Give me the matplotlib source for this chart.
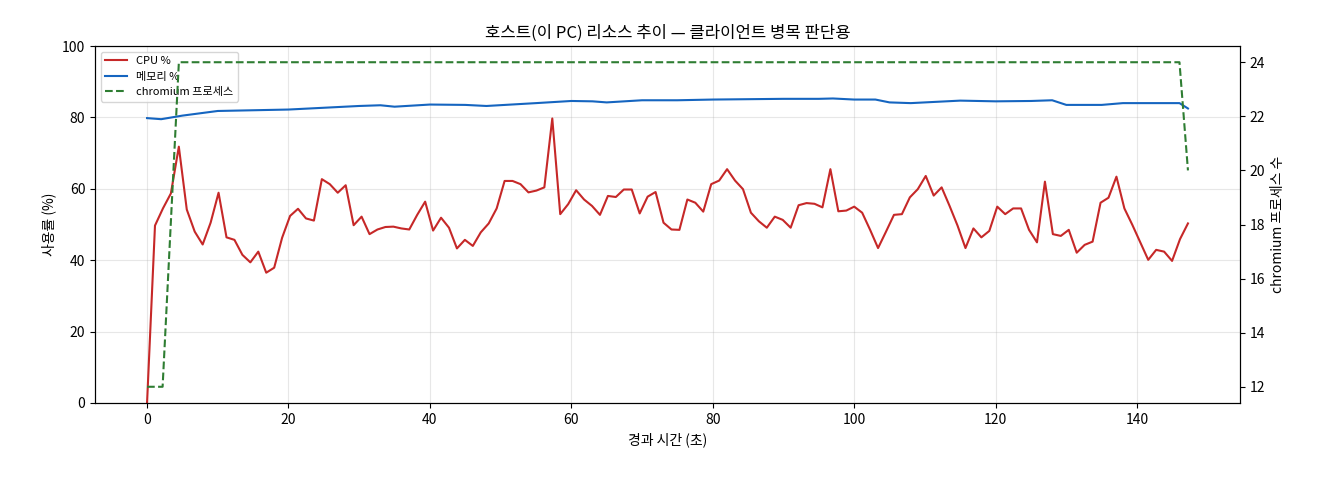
import numpy as np
import matplotlib
matplotlib.use("Agg")
import matplotlib.pyplot as plt

plt.rcParams['font.family'] = ['Noto Sans CJK KR', 'DejaVu Sans']
plt.rcParams['axes.unicode_minus'] = False

# ===== 데이터 =====
cpu = [0, 49.7, 54.5, 58.7, 71.8, 54.2, 48, 44.4, 50.5, 58.9, 46.4, 45.7, 41.5, 39.4, 42.4,
       36.5, 37.9, 46.3, 52.4, 54.4, 51.7, 51.1, 62.7, 61.3, 58.9, 61, 49.8, 52.2, 47.3, 48.6,
       49.3, 49.4, 48.9, 48.6, 52.7, 56.4, 48.3, 51.9, 49.1, 43.3, 45.7, 44, 47.8, 50.3, 54.5,
       62.2,
       62.2, 61.3, 59, 59.5, 60.4, 79.7, 52.9, 55.7, 59.6, 57, 55.2, 52.7, 58, 57.7, 59.8, 59.8,
       53.1, 57.8, 59.1, 50.5, 48.6, 48.5, 57, 56.1, 53.6, 61.3, 62.3, 65.5, 62.3, 59.9, 53.3,
       50.9, 49.1, 52.2, 51.3, 49.1, 55.4, 56, 55.8, 54.8, 65.5, 53.7, 53.9, 55.0,
       53.3, 48.5, 43.4, 48, 52.7, 52.9, 57.6, 59.9, 63.6, 58.1, 60.4, 55.2, 49.7, 43.4, 48.9,
       46.4, 48.2, 55, 52.9, 54.5, 54.5, 48.5, 45, 62, 47.3, 46.8, 48.5, 42.1, 44.3, 45.2, 56.1,
       57.5, 63.4, 54.5, 49.9, 45, 40.1, 42.9, 42.4, 39.8, 45.9, 50.3]
t_end = 147.2
t_cpu = np.linspace(0, t_end, len(cpu))

mem_t = [0, 2, 5, 10, 15, 20, 25, 30, 33, 35, 40, 45, 48, 55, 60, 63, 65, 70, 75, 80, 85,
         90, 95, 97, 100, 103, 105, 108, 112, 115, 120, 125, 128, 130, 135, 138, 140, 146, 147.2]
mem = [79.8, 79.5, 80.5, 81.8, 82, 82.2, 82.7, 83.2, 83.4, 83, 83.6, 83.5, 83.2, 84, 84.6,
       84.5, 84.2, 84.8, 84.8, 85, 85.1, 85.2, 85.2, 85.3, 85, 85, 84.2, 84, 84.4, 84.7, 84.5,
       84.6, 84.8, 83.5, 83.5, 84, 84, 84, 82.5]

chrom_t = [0, 2.2, 4.5, 146.0, 147.2]
chrom = [12, 12, 24, 24, 20]

# ===== 그림 =====
fig = plt.figure(figsize=(13.2, 4.8), dpi=100)
ax = fig.add_axes([95 / 1320, 77 / 480, 1145 / 1320, 357 / 480])
l1, = ax.plot(t_cpu, cpu, color="#c62828", lw=1.5, label="CPU %")
l2, = ax.plot(mem_t, mem, color="#1565c0", lw=1.5, label="메모리 %")
ax.set_ylim(0, 100)
ax.set_xlabel("경과 시간 (초)")
ax.set_ylabel("사용률 (%)")
ax.grid(True, alpha=0.3)
ax.set_title("호스트(이 PC) 리소스 추이 — 클라이언트 병목 판단용", fontsize=12)

ax2 = ax.twinx()
l3, = ax2.plot(chrom_t, chrom, color="#2e7d32", lw=1.5, ls="--", label="chromium 프로세스")
ax2.set_ylim(11.4, 24.6)
ax2.set_ylabel("chromium 프로세스 수")

ax.legend(handles=[l1, l2, l3], loc="upper left", fontsize=8)
fig.savefig("out.png", dpi=100)
